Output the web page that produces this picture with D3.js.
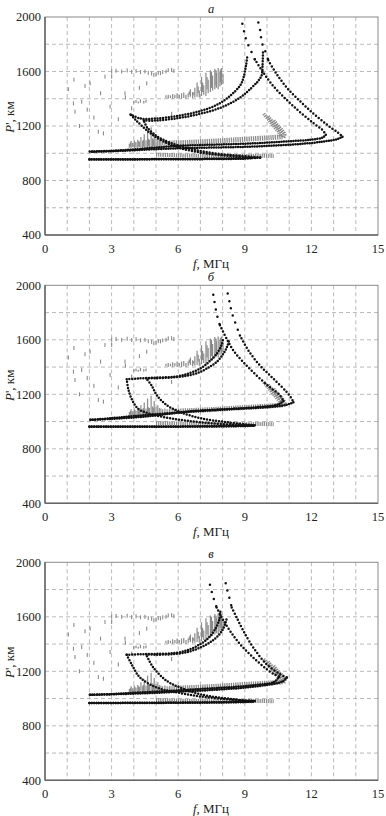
<!DOCTYPE html>
<html><head><meta charset="utf-8">
<script src="https://cdn.jsdelivr.net/npm/d3@7"></script>
<style>body{margin:0;background:#fff}svg{display:block}</style>
</head><body>
<svg id="chart" width="386" height="816"></svg>
<script>
// ---------- axes ----------
const fTicks = [0, 3, 6, 9, 12, 15];
const pTicks = [400, 800, 1200, 1600, 2000];
const fGrid = [1,2,3,4,5,6,7,8,9,10,11,12,13,14];
const pGrid = [600, 800, 1000, 1200, 1400, 1600, 1800];
const panelLetters = ["а", "б", "в"];

// ---------- experimental (gray) data, same in all panels ----------
const grayScatter = [
  [1.05,1470],[1.3,1540],[1.35,1305],[1.28,1366],[1.65,1378],[1.8,1494],[2.03,1513],
  [2.4,1158],[2.63,1146],[2.7,1562],[2.93,1342],[3.0,1562],[3.6,1440],[3.62,1410],
  [1.55,1200],[2.2,1262],[4.58,1513],[4.25,1480],[2.5,1440],[3.9,1330],[5.7,1290],
  [3.3,1250],[1.9,1320]
];
const grayBand1600 = [
  [3.0,1602],[3.2,1606],[3.45,1600],[3.7,1608],[3.9,1598],[4.1,1604],[4.3,1596],[4.5,1600],
  [4.65,1590],[4.8,1585],[4.9,1575],[5.0,1580],[5.1,1590],[5.2,1588],[5.3,1596],[5.45,1600],
  [5.55,1610],[5.7,1612],[5.8,1605]
];
const grayHatch = [
  // upper cluster 6.4-8 MHz
  [6.45,1410,1440],[6.55,1415,1470],[6.65,1405,1450],[6.75,1410,1480],[6.85,1415,1520],
  [6.95,1410,1460],[7.05,1420,1560],[7.15,1430,1500],[7.25,1420,1590],[7.35,1440,1540],
  [7.45,1450,1610],[7.55,1460,1570],[7.65,1470,1620],[7.72,1480,1590],[7.8,1470,1625],
  [7.88,1490,1600],[7.95,1500,1625],[8.02,1510,1580],
  [6.5,1430,1455],[6.7,1425,1445],[6.9,1440,1490],[7.1,1450,1520],[7.3,1470,1560],[7.5,1480,1600],[7.7,1500,1610],[7.9,1520,1615],
  // band near 1420
  [5.45,1405,1425],[5.55,1400,1430],[5.65,1405,1425],[5.75,1400,1435],[5.85,1405,1430],
  [5.95,1400,1440],[6.05,1405,1430],[6.15,1400,1440],[6.25,1405,1445],[6.35,1400,1430],
  // patch near 1380
  [4.0,1365,1385],[4.1,1370,1390],[4.2,1365,1380],[4.3,1370,1395],[4.45,1365,1385],[4.55,1370,1390],
  // lower-left cluster
  [3.8,1040,1070],[3.88,1035,1090],[3.95,1045,1075],[4.02,1038,1095],[4.1,1040,1080],
  [4.18,1035,1100],[4.25,1045,1085],[4.32,1040,1120],[4.4,1035,1090],[4.47,1045,1140],
  [4.55,1040,1095],[4.62,1038,1170],[4.7,1045,1100],[4.78,1040,1190],[4.85,1050,1110],
  [4.92,1045,1150],[5.0,1050,1105],[5.08,1048,1120],[5.15,1055,1100],[5.22,1050,1095],
  [5.3,1058,1090],[5.4,1060,1095],[5.5,1062,1090],[5.6,1065,1088],
  [3.85,1050,1080],[4.05,1048,1085],[4.22,1050,1090],[4.43,1050,1100],[4.66,1052,1105],[4.88,1055,1100]
];
const grayBand1100 = [[5.6,1075],[6.5,1080],[7.5,1088],[8.5,1098],[9.5,1108],[10.2,1115],[10.7,1122]];
const grayBand980 = [[5.0,990],[6,985],[7,982],[8,980],[9,980],[9.8,982],[10.3,980]];
const grayHook1 = [[9.85,1290],[10.1,1240],[10.35,1190],[10.55,1150],[10.6,1125]];
const grayHook2 = [[10.05,1270],[10.3,1220],[10.55,1175],[10.7,1140],[10.7,1120]];
const grayHook3 = [[10.3,1240],[10.5,1200],[10.7,1165],[10.8,1135],[10.75,1115]];

// ---------- model (black) curves ----------
// panel а
const aELowO   = [[2,955],[4,955],[6,956],[8,958],[9,961],[9.3,966]];
const aEHighO  = [[9.3,966],[9.0,972],[8,985],[7,1005],[6,1042],[5.3,1090],[4.8,1140],[4.4,1195],[4.05,1250],[3.85,1285]];
const aELowX   = [[2,956],[5,957],[8,960],[9.3,964],[9.7,968]];
const aEHighX  = [[9.7,968],[9.3,975],[8.5,985],[7.5,1003],[6.5,1035],[5.6,1080],[5.0,1130],[4.6,1190],[4.45,1240]];
const aF1O     = [[3.85,1285],[4.3,1255],[5,1255],[6,1275],[7,1310],[7.8,1360],[8.4,1430],[8.8,1500],[8.93,1548],[9.05,1640],[9.12,1720]];
const aF1X     = [[4.45,1240],[5,1240],[6,1258],[7,1290],[8,1340],[8.8,1410],[9.3,1480],[9.6,1530],[9.76,1573],[9.8,1650],[9.82,1740]];
const aF2TopO  = [[8.89,1951],[8.98,1885],[9.08,1824],[9.23,1768],[9.45,1690]];
const aF2HighO = [[9.45,1690],[9.8,1600],[10.3,1490],[10.9,1390],[11.5,1300],[12.1,1220],[12.5,1170],[12.65,1135]];
const aF2LowO  = [[12.65,1135],[12.5,1115],[12,1100],[11,1088],[10,1078],[9,1070],[8,1065],[7,1060],[6,1055],[5,1042],[4,1028],[3,1018],[2,1012]];
const aF2TopX  = [[9.61,1960],[9.71,1889],[9.76,1816],[9.91,1755],[10.06,1682]];
const aF2HighX = [[10.06,1682],[10.4,1590],[10.9,1480],[11.5,1380],[12.1,1290],[12.7,1210],[13.2,1150],[13.4,1122]];
const aF2LowX  = [[13.4,1122],[13.2,1105],[12.5,1085],[11.5,1068],[10.5,1058],[9.5,1050],[8.5,1045],[7,1040],[6,1036],[5,1030],[4,1022],[3,1015],[2,1010]];
// panel б
const bELowO   = [[2,962],[5,962],[8,965],[9.1,968],[9.4,970]];
const bEHighO  = [[9.4,970],[8.5,976],[7,995],[5.8,1020],[4.75,1056],[4.2,1093],[3.9,1167],[3.75,1240],[3.68,1310]];
const bELowX   = [[2,963],[5,963],[8,966],[9.2,969],[9.45,972]];
const bEHighX  = [[9.45,972],[8.2,995],[7,1025],[6.1,1069],[5.5,1118],[5.05,1190],[4.8,1265],[4.55,1318]];
const bF1O     = [[3.68,1310],[4.2,1316],[5,1322],[5.9,1330],[6.5,1355],[7,1390],[7.4,1440],[7.7,1490],[7.95,1560],[8.03,1610]];
const bF1X     = [[4.55,1318],[5,1318],[5.9,1326],[6.5,1340],[7,1365],[7.4,1400],[7.75,1440],[8.0,1490],[8.18,1540],[8.3,1600]];
const bF2TopO  = [[7.58,1931],[7.62,1890],[7.66,1858],[7.73,1792],[7.88,1706]];
const bF2HighO = [[7.88,1706],[8.18,1608],[8.48,1522],[8.93,1436],[9.53,1338],[10.13,1252],[10.59,1191],[10.74,1150]];
const bF2LowO  = [[10.74,1150],[10.5,1125],[9.5,1105],[8.5,1093],[7.5,1082],[6.5,1072],[5.5,1060],[4,1040],[3,1025],[2,1012]];
const bF2TopX  = [[8.23,1939],[8.33,1865],[8.41,1804],[8.56,1730],[8.78,1632]];
const bF2HighX = [[8.78,1632],[9.16,1522],[9.68,1412],[10.29,1314],[10.89,1216],[11.1,1170],[11.19,1142]];
const bF2LowX  = [[11.19,1142],[10.89,1123],[9.98,1105],[8.48,1093],[6.98,1081],[6,1065],[5,1045],[4,1030],[3,1020],[2,1012]];
// panel в
const cELowO   = [[2,968],[5,968],[8,972],[9.1,976],[9.4,980]];
const cEHighO  = [[9.4,980],[8.5,990],[7,1015],[5.8,1050],[5.03,1081],[4.28,1154],[3.9,1252],[3.68,1321]];
const cELowX   = [[2,968],[5,969],[8,973],[9.3,978],[9.45,982]];
const cEHighX  = [[9.45,982],[8.48,995],[6.98,1032],[6.08,1081],[5.48,1130],[4.88,1228],[4.55,1325]];
const cF1O     = [[3.68,1321],[4.3,1325],[5,1328],[5.9,1335],[6.5,1360],[7,1400],[7.4,1450],[7.7,1520],[7.85,1580],[7.9,1640]];
const cF1X     = [[4.55,1325],[5,1322],[5.9,1328],[6.5,1345],[7,1375],[7.5,1420],[7.9,1480],[8.1,1540],[8.2,1600]];
const cF2TopO  = [[7.43,1836],[7.5,1790],[7.58,1743],[7.73,1669]];
const cF2HighO = [[7.73,1669],[7.96,1596],[8.33,1498],[8.78,1400],[9.38,1301],[9.98,1216],[10.35,1175],[10.55,1160]];
const cF2LowO  = [[10.55,1160],[10.3,1120],[9.5,1100],[8.5,1085],[7.5,1075],[6.5,1065],[5.5,1055],[4,1042],[3,1033],[2,1027]];
const cF2TopX  = [[8.14,1846],[8.2,1800],[8.26,1767],[8.41,1669]];
const cF2HighX = [[8.41,1669],[8.63,1596],[8.93,1498],[9.38,1375],[9.98,1252],[10.59,1179],[10.89,1154]];
const cF2LowX  = [[10.89,1154],[10.7,1125],[10,1100],[9,1080],[8,1068],[7,1058],[6,1050],[5,1042],[4,1036],[3,1031],[2,1027]];

// curve groups per panel
const panelCurves = [
  {low: [aELowO, aELowX, aF2LowO, aF2LowX], eHigh: [aEHighO, aEHighX], f1: [aF1O, aF1X], high: [aF2HighO, aF2HighX], top: [aF2TopO, aF2TopX]},
  {low: [bELowO, bELowX, bF2LowO, bF2LowX], eHigh: [bEHighO, bEHighX], f1: [bF1O, bF1X], high: [bF2HighO, bF2HighX], top: [bF2TopO, bF2TopX]},
  {low: [cELowO, cELowX, cF2LowO, cF2LowX], eHigh: [cEHighO, cEHighX], f1: [cF1O, cF1X], high: [cF2HighO, cF2HighX], top: [cF2TopO, cF2TopX]}
];
const dotGap = {low: 2.4, eHigh: 3.0, f1: 2.8, high: 3.5, top: 7.5};

// ---------- layout ----------
const svg = d3.select("#chart");
const X0 = 45, X1 = 378, PH = 218;
const panelTops = [17, 285.3, 562.3];
const FONT = "'Liberation Serif','Times New Roman',serif";

const x = d3.scaleLinear().domain([0, 15]).range([X0, X1]);

panelTops.forEach((top, i) => {
  const y = d3.scaleLinear().domain([400, 2000]).range([top + PH, top]);
  const g = svg.append("g");
  const clipId = "clip" + i;
  svg.append("clipPath").attr("id", clipId).append("rect")
    .attr("x", X0).attr("y", top).attr("width", X1 - X0).attr("height", PH);

  // grid
  g.selectAll(".vg").data(fGrid).join("line")
    .attr("x1", d => x(d)).attr("x2", d => x(d)).attr("y1", top).attr("y2", top + PH)
    .attr("stroke", "#a8a8a8").attr("stroke-width", 0.8).attr("stroke-dasharray", "4,3");
  g.selectAll(".hg").data(pGrid).join("line")
    .attr("x1", X0).attr("x2", X1).attr("y1", d => y(d)).attr("y2", d => y(d))
    .attr("stroke", "#a8a8a8").attr("stroke-width", 0.8).attr("stroke-dasharray", "4,3");

  const data = g.append("g").attr("clip-path", `url(#${clipId})`);

  // gray experimental traces
  data.selectAll(".sp").data(grayScatter.concat(grayBand1600)).join("rect")
    .attr("x", d => x(d[0]) - 0.5).attr("y", d => y(d[1]) - 2).attr("width", 1.1).attr("height", 4)
    .attr("fill", "#8c8c8c");
  data.selectAll(".ht").data(grayHatch).join("line")
    .attr("x1", d => x(d[0])).attr("x2", d => x(d[0]))
    .attr("y1", d => y(d[1])).attr("y2", d => y(d[2]))
    .attr("stroke", "#8a8a8a").attr("stroke-width", 1.2);
  const gl = d3.line().x(d => x(d[0])).y(d => y(d[1])).curve(d3.curveCatmullRom);
  [[grayBand1100, 5], [grayBand980, 4], [grayHook1, 3.5], [grayHook2, 3.5], [grayHook3, 3.5]].forEach(([pts, w]) => {
    data.append("path").attr("d", gl(pts)).attr("fill", "none")
      .attr("stroke", "#8a8a8a").attr("stroke-width", w).attr("stroke-dasharray", "1.3,0.9");
  });

  // black model curves (dotted)
  const pc = panelCurves[i];
  Object.keys(dotGap).forEach(k => {
    pc[k].forEach(pts => {
      data.append("path").attr("d", gl(pts)).attr("fill", "none")
        .attr("stroke", "#111").attr("stroke-width", 2.5)
        .attr("stroke-linecap", "round").attr("stroke-dasharray", `0,${dotGap[k]}`);
    });
  });

  // frame
  g.append("rect").attr("x", X0).attr("y", top).attr("width", X1 - X0).attr("height", PH)
    .attr("fill", "none").attr("stroke", "#8a8a8a").attr("stroke-width", 1);
  g.append("line").attr("x1", X0).attr("x2", X0).attr("y1", top).attr("y2", top + PH)
    .attr("stroke", "#666").attr("stroke-width", 1.5);
  g.append("line").attr("x1", X0).attr("x2", X1).attr("y1", top + PH).attr("y2", top + PH)
    .attr("stroke", "#666").attr("stroke-width", 1.5);

  // tick labels
  g.selectAll(".xt").data(fTicks).join("text")
    .attr("x", d => x(d)).attr("y", top + PH + 18)
    .attr("text-anchor", "middle").attr("font-family", FONT).attr("font-size", 12.5)
    .attr("fill", "#222").text(d => d);
  g.selectAll(".yt").data(pTicks).join("text")
    .attr("x", 41).attr("y", d => y(d) + 4.3)
    .attr("text-anchor", "end").attr("font-family", FONT).attr("font-size", 12.5)
    .attr("fill", "#222").text(d => d);

  // axis titles
  const xt = g.append("text").attr("x", 211).attr("y", top + PH + 32.5)
    .attr("text-anchor", "middle").attr("font-family", FONT).attr("font-size", 13).attr("fill", "#222");
  xt.append("tspan").attr("font-style", "italic").text("f");
  xt.append("tspan").text(", МГц");

  const yt = g.append("text").attr("transform", `translate(14,${top + 100}) rotate(-90)`)
    .attr("text-anchor", "middle").attr("font-family", FONT).attr("font-size", 13).attr("fill", "#222");
  yt.append("tspan").attr("font-style", "italic").text("P");
  yt.append("tspan").text("', км");

  // panel letter
  g.append("text").attr("x", 211).attr("y", top - 4.5)
    .attr("text-anchor", "middle").attr("font-family", FONT).attr("font-style", "italic")
    .attr("font-size", 12.5).attr("fill", "#222").text(panelLetters[i]);
});
</script>
</body></html>
